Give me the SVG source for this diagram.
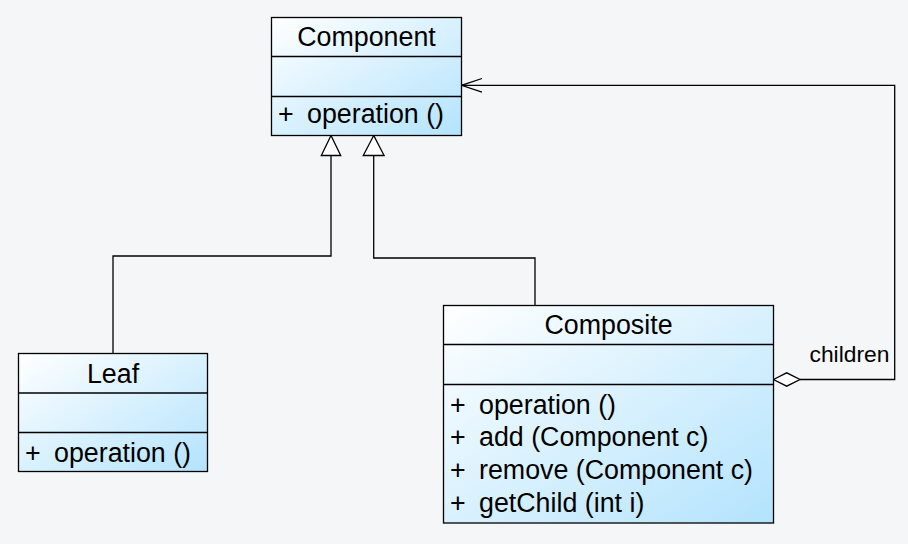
<svg xmlns="http://www.w3.org/2000/svg" width="908" height="544" viewBox="0 0 908 544">
<defs>
<linearGradient id="g" x1="0" y1="0" x2="1" y2="1">
<stop offset="0" stop-color="#ffffff"/>
<stop offset="1" stop-color="#b3e3fd"/>
</linearGradient>
<style>
.box{fill:url(#g);stroke:#000;stroke-width:1.3}
.div{stroke:#000;stroke-width:1.3}
.t{font-family:"Liberation Sans",Arial,sans-serif;font-size:26.8px;fill:#000}
.c{text-anchor:middle}
.ln{fill:none;stroke:#000;stroke-width:1.3}
.head{fill:#fff;stroke:#000;stroke-width:1.3}
</style>
</defs>
<rect width="908" height="544" fill="#f5f6f8"/>
<g id="connectors">
<polyline class="ln" points="113,353.5 113,256 331,256 331,155.5"/>
<polygon class="head" points="331,135.5 321.3,155.5 340.7,155.5"/>
<polyline class="ln" points="535,305.5 535,258 373.7,258 373.7,155.5"/>
<polygon class="head" points="373.7,135.5 363.3,155.5 384.1,155.5"/>
<polyline class="ln" points="800,379.5 894.7,379.5 894.7,85.3 461.5,85.3"/>
<polyline class="ln" points="482,78.5 461.5,85.3 482,92.1"/>
<polygon class="head" points="773.5,379.5 786.7,372.8 800,379.5 786.7,386.2"/>
<text class="t" x="809.5" y="361.7" style="font-size:22.8px">children</text>
</g>
<g id="Component">
<rect class="box" x="271.5" y="17.5" width="190" height="118"/>
<line class="div" x1="271.5" y1="56.5" x2="461.5" y2="56.5"/>
<line class="div" x1="271.5" y1="96.5" x2="461.5" y2="96.5"/>
<text class="t c" x="366.5" y="46">Component</text>
<text class="t" x="278" y="122.5">+</text>
<text class="t" x="307" y="122.5">operation ()</text>
</g>
<g id="Leaf">
<rect class="box" x="18.5" y="353.5" width="189" height="118"/>
<line class="div" x1="18.5" y1="393" x2="207.5" y2="393"/>
<line class="div" x1="18.5" y1="432.5" x2="207.5" y2="432.5"/>
<text class="t c" x="113" y="382.5">Leaf</text>
<text class="t" x="25" y="461.5">+</text>
<text class="t" x="54" y="461.5">operation ()</text>
</g>
<g id="Composite">
<rect class="box" x="443.5" y="305.5" width="330" height="217.5"/>
<line class="div" x1="443.5" y1="344.5" x2="773.5" y2="344.5"/>
<line class="div" x1="443.5" y1="384.5" x2="773.5" y2="384.5"/>
<text class="t c" x="608.5" y="333.5">Composite</text>
<text class="t" x="450" y="413.5">+</text>
<text class="t" x="479" y="413.5">operation ()</text>
<text class="t" x="450" y="446">+</text>
<text class="t" x="479" y="446">add (Component c)</text>
<text class="t" x="450" y="478.5">+</text>
<text class="t" x="479" y="478.5">remove (Component c)</text>
<text class="t" x="450" y="511.5">+</text>
<text class="t" x="479" y="511.5">getChild (int i)</text>
</g>
</svg>
